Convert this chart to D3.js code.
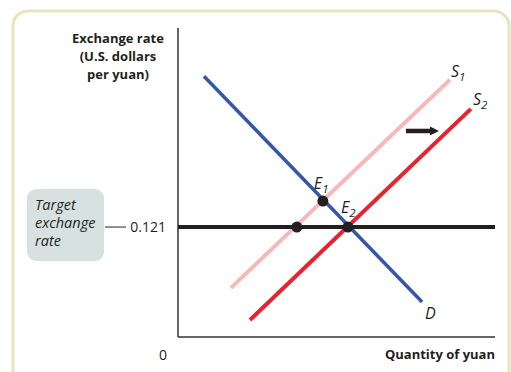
<!DOCTYPE html>
<html>
<head>
<meta charset="utf-8">
<script src="https://cdn.jsdelivr.net/npm/d3@7"></script>
<style>
  body { margin: 0; background: #fff; }
  svg { display: block; }
  text { font-family: "Open Sans", sans-serif; fill: #231f20; }
</style>
</head>
<body>
<div id="chart"></div>
<script>
// curves as [quantity, dollars per yuan] end points
var demandD = [[8.2, 0.287], [77.0, 0.0385]];
var supplyS1 = [[16.7, 0.054], [85.8, 0.283]];
var supplyS2 = [[22.7, 0.0187], [92.4, 0.251]];
var targetRate = 0.121;
var equilibria = [
  {name: "E", sub: "1", q: 45.7, p: 0.1496},
  {name: "E", sub: "2", q: 53.6, p: 0.121},
  {name: "", sub: "", q: 37.5, p: 0.121}
];
var shiftArrow = [[71.9, 0.2267], [79.5, 0.2267]];
var yTickLabels = ["0.121"];
var yTitle = ["Exchange rate", "(U.S. dollars", "per yuan)"];
var xTitle = "Quantity of yuan";
var boxLines = ["Target", "exchange", "rate"];

var width = 511, height = 372;
var svg = d3.select("#chart").append("svg")
  .attr("width", width).attr("height", height);

// panel frame
svg.append("rect")
  .attr("x", 13).attr("y", 11)
  .attr("width", 496).attr("height", 380)
  .attr("rx", 15)
  .attr("fill", "none")
  .attr("stroke", "#e9e4bf")
  .attr("stroke-width", 3);

var x = d3.scaleLinear().domain([0, 100]).range([178, 495]);
var y = d3.scaleLinear().domain([0, 0.34]).range([337, 28]);

// axes
svg.append("line")
  .attr("x1", x(0)).attr("y1", y(0.34))
  .attr("x2", x(0)).attr("y2", y(0))
  .attr("stroke", "#333").attr("stroke-width", 1.5);
svg.append("line")
  .attr("x1", x(0)).attr("y1", y(0))
  .attr("x2", x(100)).attr("y2", y(0))
  .attr("stroke", "#333").attr("stroke-width", 1.5);

var yt = svg.append("text")
  .attr("text-anchor", "middle")
  .attr("font-weight", "bold")
  .attr("font-size", 13)
  .attr("fill", "#333");
yTitle.forEach(function(s, i) {
  yt.append("tspan").attr("x", 118).attr("y", 43 + i * 18).text(s);
});

svg.append("text")
  .attr("x", x(100)).attr("y", 359)
  .attr("text-anchor", "end")
  .attr("font-weight", "bold")
  .attr("font-size", 13)
  .attr("fill", "#333")
  .text(xTitle);

svg.append("text")
  .attr("x", 163).attr("y", 360)
  .attr("text-anchor", "middle")
  .attr("font-size", 14)
  .text("0");

// target rate label
svg.append("text")
  .attr("x", 166).attr("y", y(targetRate) + 5)
  .attr("text-anchor", "end")
  .attr("font-size", 14)
  .text(yTickLabels[0]);
svg.append("line")
  .attr("x1", 105).attr("x2", 126)
  .attr("y1", y(targetRate)).attr("y2", y(targetRate))
  .attr("stroke", "#555").attr("stroke-width", 1.3);
svg.append("rect")
  .attr("x", 27).attr("y", 189)
  .attr("width", 77).attr("height", 72)
  .attr("rx", 9)
  .attr("fill", "#d7e2e0");
var bt = svg.append("text")
  .attr("font-style", "italic")
  .attr("font-size", 14.5)
  .attr("fill", "#3a3a3a");
boxLines.forEach(function(s, i) {
  bt.append("tspan").attr("x", 35).attr("y", 210 + i * 18).text(s);
});

// curves
var line = d3.line().x(function(d) { return x(d[0]); }).y(function(d) { return y(d[1]); });
svg.append("path").datum(supplyS1).attr("d", line)
  .attr("stroke", "#f7b8b8").attr("stroke-width", 4).attr("fill", "none");
svg.append("path").datum(supplyS2).attr("d", line)
  .attr("stroke", "#e8222f").attr("stroke-width", 4).attr("fill", "none");
svg.append("path").datum(demandD).attr("d", line)
  .attr("stroke", "#3457a6").attr("stroke-width", 3.5).attr("fill", "none");

// target rate line
svg.append("line")
  .attr("x1", x(0)).attr("x2", x(100))
  .attr("y1", y(targetRate)).attr("y2", y(targetRate))
  .attr("stroke", "#231f20").attr("stroke-width", 4);

// points
svg.selectAll(".pt").data(equilibria).enter().append("circle")
  .attr("class", "pt")
  .attr("cx", function(d) { return x(d.q); })
  .attr("cy", function(d) { return y(d.p); })
  .attr("r", 5.5)
  .attr("fill", "#231f20");

// curve labels
function subLabel(px, py, name, sub) {
  var t = svg.append("text")
    .attr("x", px).attr("y", py)
    .attr("font-style", "italic")
    .attr("font-size", 16)
    .attr("fill", "#2b2b2b");
  t.append("tspan").text(name);
  if (sub) t.append("tspan").attr("font-size", 11.5).attr("dy", 4).text(sub);
}
subLabel(x(supplyS1[1][0]) + 1, y(supplyS1[1][1]) - 3, "S", "1");
subLabel(x(supplyS2[1][0]) + 2, y(supplyS2[1][1]) - 4, "S", "2");
subLabel(x(demandD[1][0]) + 3, y(demandD[1][1]) + 17, "D", "");
subLabel(x(equilibria[0].q) - 9, y(equilibria[0].p) - 12, "E", "1");
subLabel(x(equilibria[1].q) - 7, y(equilibria[1].p) - 14, "E", "2");

// shift arrow
svg.append("defs").append("marker")
  .attr("id", "head")
  .attr("viewBox", "0 0 10 10")
  .attr("refX", 0).attr("refY", 5)
  .attr("markerWidth", 2.8).attr("markerHeight", 2)
  .attr("orient", "auto")
  .append("path").attr("d", "M0,0 L10,5 L0,10 z").attr("fill", "#231f20");
svg.append("path").datum(shiftArrow).attr("d", line)
  .attr("stroke", "#231f20").attr("stroke-width", 4.5)
  .attr("fill", "none")
  .attr("marker-end", "url(#head)");
</script>
</body>
</html>
